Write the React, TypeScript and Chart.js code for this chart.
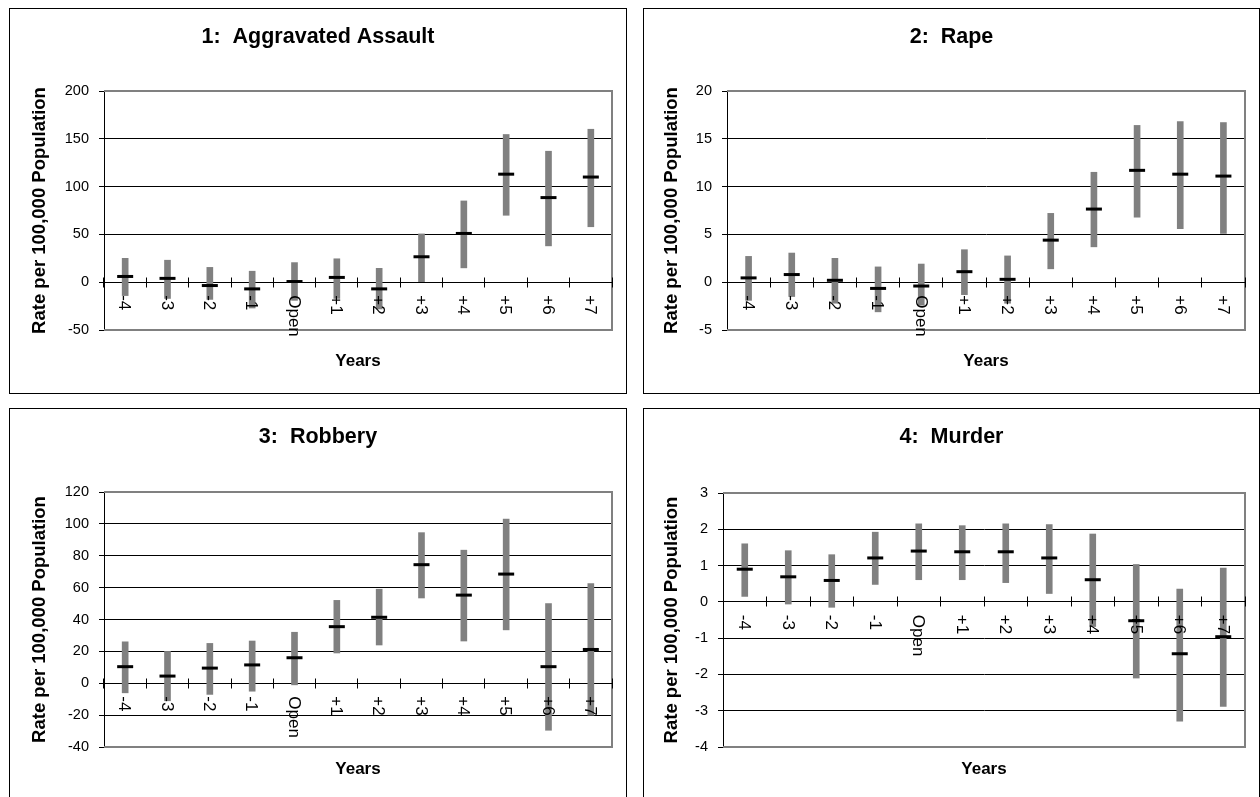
import React, { useEffect, useRef } from 'react';
import { Chart, registerables } from 'chart.js';

Chart.register(...registerables);

const categories = ['-4', '-3', '-2', '-1', 'Open', '+1', '+2', '+3', '+4', '+5', '+6', '+7'];

const assaultTicks = [-50, 0, 50, 100, 150, 200];
const assaultMean = [6, 4, -3.5, -7, 0.7, 5, -7, 26.6, 51, 113, 88.5, 110];
const assaultLow = [-14, -17, -18, -27, -19, -17, -28, 0, 15, 70, 38, 58];
const assaultHigh = [25, 23, 15.5, 11.5, 20.5, 24.5, 14.5, 50.5, 85, 154.5, 137, 160];

const rapeTicks = [-5, 0, 5, 10, 15, 20];
const rapeMean = [0.45, 0.8, 0.2, -0.65, -0.4, 1.1, 0.3, 4.4, 7.65, 11.7, 11.3, 11.1];
const rapeLow = [-1.9, -1.5, -2.2, -3.1, -2.4, -1.3, -2.2, 1.4, 3.7, 6.8, 5.6, 5.1];
const rapeHigh = [2.7, 3.05, 2.5, 1.6, 1.9, 3.4, 2.75, 7.2, 11.5, 16.4, 16.8, 16.7];

const robberyTicks = [-40, -20, 0, 20, 40, 60, 80, 100, 120];
const robberyMean = [10.4, 4.5, 9.5, 11.5, 16, 35.5, 41.4, 74.4, 55.3, 68.5, 10.4, 21.2];
const robberyLow = [-6, -11, -7, -5, -1, 19, 24, 53.5, 26.5, 33.5, -29.5, -20];
const robberyHigh = [26, 20, 25, 26.5, 32, 52, 59, 94.5, 83.5, 103, 50, 62.5];

const murderTicks = [-4, -3, -2, -1, 0, 1, 2, 3];
const murderMean = [0.9, 0.69, 0.59, 1.21, 1.4, 1.38, 1.38, 1.21, 0.61, -0.52, -1.43, -0.96];
const murderLow = [0.15, -0.06, -0.15, 0.48, 0.61, 0.61, 0.53, 0.23, -0.68, -2.1, -3.29, -2.88];
const murderHigh = [1.6, 1.41, 1.3, 1.92, 2.15, 2.1, 2.15, 2.13, 1.87, 1.03, 0.35, 0.93];

const titles = ['1:  Aggravated Assault', '2:  Rape', '3:  Robbery', '4:  Murder'];
const yTitle = 'Rate per 100,000 Population';
const xTitle = 'Years';

const FONT = '"Liberation Sans", Arial, sans-serif';
const Y_AXIS_W = 60;

type Panel = {
  title: string;
  ticks: number[];
  mean: number[];
  low: number[];
  high: number[];
  left: number;
  top: number;
  width: number;
  height: number;
  pad: { left: number; top: number; right: number; bottom: number };
  titleY: number;
  xTitleY: number;
  yTitleX: number;
};

const panels: Panel[] = [
  {
    title: titles[0], ticks: assaultTicks, mean: assaultMean, low: assaultLow, high: assaultHigh,
    left: 9, top: 8, width: 618, height: 386,
    pad: { left: 94 - Y_AXIS_W, top: 82, right: 14, bottom: 63 }, titleY: 28, xTitleY: 352, yTitleX: 30,
  },
  {
    title: titles[1], ticks: rapeTicks, mean: rapeMean, low: rapeLow, high: rapeHigh,
    left: 643, top: 8, width: 617, height: 386,
    pad: { left: 83 - Y_AXIS_W, top: 82, right: 14, bottom: 63 }, titleY: 28, xTitleY: 352, yTitleX: 28,
  },
  {
    title: titles[2], ticks: robberyTicks, mean: robberyMean, low: robberyLow, high: robberyHigh,
    left: 9, top: 408, width: 618, height: 394,
    pad: { left: 94 - Y_AXIS_W, top: 83, right: 14, bottom: 54 }, titleY: 28, xTitleY: 360, yTitleX: 30,
  },
  {
    title: titles[3], ticks: murderTicks, mean: murderMean, low: murderLow, high: murderHigh,
    left: 643, top: 408, width: 617, height: 394,
    pad: { left: 79 - Y_AXIS_W, top: 84, right: 14, bottom: 54 }, titleY: 28, xTitleY: 360, yTitleX: 28,
  },
];

const excelPlugin = {
  id: 'excel',
  beforeDatasetsDraw(chart: any) {
    const { ctx, chartArea: a } = chart;
    const xs = chart.scales.x;
    const ys = chart.scales.y;
    ctx.save();
    ctx.strokeStyle = '#808080';
    ctx.lineWidth = 2;
    ctx.beginPath();
    ctx.moveTo(a.left, a.top);
    ctx.lineTo(a.right, a.top);
    ctx.lineTo(a.right, a.bottom);
    ctx.lineTo(a.left, a.bottom);
    ctx.stroke();

    const y0 = Math.round(ys.getPixelForValue(0) - 0.5) + 0.5;
    const n = chart.data.labels.length;
    const half = (xs.getPixelForValue(1) - xs.getPixelForValue(0)) / 2;
    ctx.strokeStyle = '#000';
    ctx.lineWidth = 1;
    ctx.beginPath();
    ctx.moveTo(a.left, y0);
    ctx.lineTo(a.right, y0);
    for (let i = 0; i <= n; i++) {
      const px = i < n ? xs.getPixelForValue(i) - half : xs.getPixelForValue(n - 1) + half;
      const xx = Math.round(px - 0.5) + 0.5;
      ctx.moveTo(xx, y0 - 5);
      ctx.lineTo(xx, y0 + 5);
    }
    ctx.stroke();
    ctx.restore();
  },
  afterDraw(chart: any, _args: any, opts: any) {
    const { ctx, chartArea: a } = chart;
    const xs = chart.scales.x;
    const ys = chart.scales.y;
    const y0 = ys.getPixelForValue(0);
    ctx.save();
    ctx.fillStyle = '#000';
    // rotated category labels (reading top to bottom)
    ctx.font = `17px ${FONT}`;
    ctx.textAlign = 'left';
    ctx.textBaseline = 'middle';
    chart.data.labels.forEach((lab: string, i: number) => {
      const px = xs.getPixelForValue(i);
      ctx.save();
      ctx.translate(px - 1, y0 + 13);
      ctx.rotate(Math.PI / 2);
      ctx.fillText(lab, 0, 0);
      ctx.restore();
    });
    // main title
    ctx.font = `bold 21.5px ${FONT}`;
    ctx.textAlign = 'center';
    ctx.fillText(opts.title, chart.width / 2, opts.titleY);
    // x title
    ctx.font = `bold 17px ${FONT}`;
    ctx.fillText(opts.xTitle, (a.left + a.right) / 2, opts.xTitleY);
    // y title
    ctx.font = `bold 18.5px ${FONT}`;
    ctx.save();
    ctx.translate(opts.yTitleX, (a.top + a.bottom) / 2);
    ctx.rotate(-Math.PI / 2);
    ctx.fillText(opts.yTitle, 0, 0);
    ctx.restore();
    ctx.restore();
  },
};

function PanelChart({ p }: { p: Panel }) {
  const ref = useRef<HTMLCanvasElement | null>(null);
  const cw = p.width - 2;
  const ch = p.height - 2;
  useEffect(() => {
    if (!ref.current) return;
    const tmin = p.ticks[0];
    const tmax = p.ticks[p.ticks.length - 1];
    const step = p.ticks[1] - p.ticks[0];
    const chart = new Chart(ref.current, {
      type: 'bar',
      data: {
        labels: categories,
        datasets: [
          {
            type: 'line',
            data: p.mean,
            showLine: false,
            pointStyle: 'line',
            pointRadius: 8,
            pointHoverRadius: 8,
            pointBorderWidth: 3,
            borderWidth: 3,
            borderColor: '#000',
            backgroundColor: '#000',
            order: 0,
          } as any,
          {
            type: 'bar',
            data: p.low.map((l, i) => [l, p.high[i]]),
            backgroundColor: '#808080',
            borderWidth: 0,
            barThickness: 6,
            order: 1,
          } as any,
        ],
      },
      options: {
        animation: false,
        responsive: false,
        maintainAspectRatio: false,
        events: [],
        layout: { padding: p.pad },
        plugins: {
          legend: { display: false },
          tooltip: { enabled: false },
          title: { display: false },
          excel: { title: p.title, titleY: p.titleY, xTitle, xTitleY: p.xTitleY, yTitle, yTitleX: p.yTitleX },
        } as any,
        scales: {
          x: { display: false, offset: true },
          y: {
            min: tmin,
            max: tmax,
            ticks: {
              stepSize: step,
              padding: 10,
              autoSkip: false,
              color: '#000',
              font: { family: FONT, size: 14.5 },
              callback: (v: any) => String(v),
            },
            grid: {
              color: (c: any) => (c.tick && (c.tick.value === tmin || c.tick.value === tmax) ? '#808080' : '#000'),
              tickLength: 5,
              tickColor: '#000',
              lineWidth: 1,
            },
            border: { display: true, color: '#000', width: 1 },
            afterFit: (s: any) => {
              s.width = Y_AXIS_W;
            },
          } as any,
        },
      },
      plugins: [excelPlugin],
    });
    return () => chart.destroy();
  }, [p]);
  return (
    <div
      style={{
        position: 'absolute',
        left: p.left,
        top: p.top,
        width: p.width,
        height: p.height,
        border: '1px solid #000',
        boxSizing: 'border-box',
        background: '#fff',
      }}
    >
      <canvas ref={ref} width={cw} height={ch} style={{ display: 'block', width: cw, height: ch }} />
    </div>
  );
}

export default function App() {
  return (
    <div style={{ position: 'fixed', inset: 0, overflow: 'hidden', background: '#fff' }}>
      {panels.map((p, i) => (
        <PanelChart key={i} p={p} />
      ))}
    </div>
  );
}
